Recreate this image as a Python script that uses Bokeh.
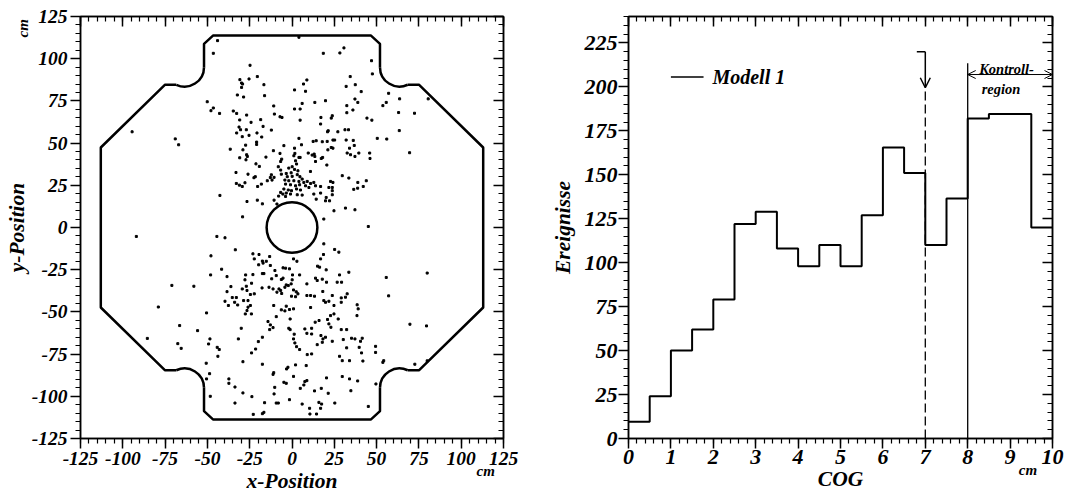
import math
from bokeh.plotting import figure
from bokeh.layouts import row
from bokeh.models import (LinearAxis, Range1d, SingleIntervalTicker, Label, Arrow,
                          OpenHead, CustomJSTickFormatter)
from bokeh.embed import file_html
from bokeh.resources import INLINE

FONT = "Liberation Serif"

# ---------------- data ----------------
# COG histogram (bin edges in cm, event counts)
cog_edges = [0.0, 0.5, 1.0, 1.5, 2.0, 2.5, 3.0, 3.5, 4.0, 4.5, 5.0,
             5.5, 6.0, 6.5, 7.0, 7.5, 8.0, 8.5, 9.0, 9.5, 10.0]
cog_counts = [9.5, 24, 50, 62, 79, 122, 129, 108, 98, 110,
              98, 127, 165.5, 151, 110, 136.5, 182, 184.5, 184.5, 120]

cut_cog = 7.0          # cut position (dashed line)
control_cog = 8.0      # start of control region

# hit positions (cm)
hits = [
    # upper half
    (-44, 110.7), (-46.5, 103.2), (-24.8, 96.1), (-20.5, 89.4), (-25.4, 88), (-30.8, 87.6),
    (-29.8, 85.6), (-29.2, 85), (-29.8, 83), (-16.6, 84.6), (-32.3, 78.5), (-28.6, 77.3),
    (-16.2, 78.1), (-50.1, 74.5), (-46.5, 70.8), (-47.9, 69.2), (-42.8, 67.6), (-34.7, 69),
    (-32.7, 67.6), (-26.8, 66.6), (-10.8, 72), (-10.4, 67.2), (-7.1, 65.6), (-5.9, 65.2),
    (-30.9, 63.7), (-24.2, 62.3), (-18.5, 63.9), (-31.3, 59.5), (-30.4, 57.9), (-17.1, 59.9),
    (-27, 57.9), (-12.2, 57.7), (-32.7, 56), (-29.4, 53.8), (-25.4, 54.6), (-20.7, 56),
    (-17.9, 53.6), (-20.9, 50.6), (-20.9, 49.2), (-27.4, 48.8), (-36.5, 46.4), (-29, 46),
    (-11, 45.5), (-26.8, 43.1), (-26.4, 42.1), (-27.2, 40.1), (-30.9, 41.3), (-15.4, 41.7),
    (-7.1, 43.9), (-6.1, 40.5), (-6.7, 39.1), (-21.3, 37.7), (-19.3, 36.2), (-33.1, 32.6),
    (-26, 31.6), (-21.7, 30.1), (-22.5, 29.5), (-8.1, 36), (-6.7, 34), (-10.6, 29.7),
    (-11.8, 28.1), (-6.3, 31.6), (-14.6, 27.7), (-12.8, 29.6), (-12.2, 31.2), (-32.9, 26.1),
    (-31.1, 25.1), (-29.4, 24.3), (-27.8, 26.5), (-20.3, 24.3), (-18.1, 25.7), (-42.6, 19),
    (-26.6, 15.4), (-20.5, 16.2), (-17.5, 14), (-10.6, 16.2), (-7.9, 18.6), (-6.7, 20.8),
    (-8.9, 13.9), (-29.2, 6.3),
    (4.1, 112.7), (30.7, 106.4), (28.3, 103.4), (18.5, 103.2), (47, 98.8), (47.5, 91),
    (34.4, 89.4), (8.8, 87.4), (6.8, 85), (37.4, 84.6), (32, 83.6), (40.9, 80.5),
    (1.5, 81.5), (8, 80.7), (57.1, 79.5), (55.7, 74.1), (53.7, 72.2), (37.2, 76.1),
    (38.9, 74.1), (32.4, 72.2), (36, 69.6), (32.4, 68), (6, 73.5), (13.5, 74.1),
    (19.8, 75.1), (1.5, 70.2), (4.8, 70.2), (17.1, 65.2), (23.8, 66.2), (23.2, 64.8),
    (4.8, 63.6), (44.3, 64.8), (47.2, 63.6), (16.9, 61.3), (21.4, 57.3), (21, 56.7),
    (27.1, 56.7), (31.3, 57.9), (33.4, 57.9), (50.4, 52.8), (56, 52.4), (4.1, 52.8),
    (5.6, 49), (1.5, 47), (-4.8, 48.5), (12.5, 51), (14.3, 51.4), (17.9, 50.8),
    (20.8, 51), (24.2, 51.8), (25.2, 51.8), (23.2, 47.4), (24.2, 47), (21.2, 46),
    (32, 51.8), (36.2, 51.6), (36.8, 48.6), (34, 47), (32.6, 44.1), (34.6, 43.1),
    (37.2, 42.1), (39.5, 44.1), (45.9, 44.1), (46.1, 40.9), (9.6, 44.1), (11.9, 42.9),
    (13.1, 43.5), (13.5, 42.1), (4.1, 41.5), (4.8, 41.5), (1.7, 43.9), (1.1, 42.5),
    (2.1, 39.5), (18.1, 41.5), (20.6, 37), (13.9, 39.1), (17.3, 40.9), (10.9, 33.2),
    (2.7, 37.6), (0.1, 36), (-1.9, 35.2), (1.5, 34.4), (3.5, 33.6), (-0.5, 32.4),
    (-3.4, 32), (-2.8, 30.1), (0.1, 30.3), (3.1, 31.3), (4.7, 30.1), (6, 28.7),
    (-4.2, 28.1), (-1.9, 27.7), (1.1, 27.7), (4.1, 27.3), (7, 26.7), (9, 27.3),
    (11, 26.1), (12.9, 26.7), (13.9, 24.7), (16.9, 24.3), (-3.8, 25.7), (-0.9, 25.3),
    (2.1, 24.7), (4.5, 25.3), (8, 24.7), (10, 23.7), (-4.8, 22.8), (-2.2, 22.2),
    (-0.3, 21.8), (2.7, 22.8), (5, 22.2), (-5.4, 19.8), (-3.4, 20.4), (-0.9, 19.8),
    (-3.8, 18.4), (3.1, 19.4), (6, 19.2), (22.8, 27.3), (24.2, 26.7), (23.8, 23.7),
    (21.8, 23.7), (23.8, 21.8), (23.8, 19.4), (20.2, 17.8), (19.8, 15.8), (22.2, 15.8),
    (14.3, 16.8), (12.9, 19.8), (16.9, 20.4), (29.7, 30.7), (33.6, 29.3), (38.9, 26.7),
    (38.8, 23.3), (43.9, 27.7), (42.1, 24.3), (36.5, 22.6), (24.8, 9.9), (31.6, 11.5),
    (37.2, 10.5), (18.8, 5), (45.1, 0.6),
    (-94.5, 56.7), (-69, 52.5), (-67, 49), (-92, -5.3),
    (63.6, 76.2), (80.5, 76.2), (63, 68.1), (72.4, 67.7), (63.4, 57.4), (69.5, 44.3),
    # lower half
    (-44.4, -5.3), (-39.6, -6.1), (-33.5, -13.2), (-47.9, -16.8), (-23.1, -15.6), (-19.5, -16),
    (-22.3, -18.6), (-17.5, -19.9), (-17.1, -21.1), (-15.2, -20), (-13.2, -17.2), (-19.7, -22.1),
    (-12.8, -22.5), (-41.6, -24.7), (-48.1, -28.1), (-38.4, -29.1), (-27.4, -28.1), (-23.1, -27.9),
    (-17.5, -27.3), (-16.6, -27.3), (-10.1, -25.5), (-9.3, -28.5), (-5.3, -23.9), (-6.3, -30.8),
    (-5.3, -30), (-27.8, -31), (-12, -30.4), (-58, -34.8), (-38.4, -38), (-36.1, -35),
    (-29.4, -36.4), (-27, -34.8), (-26.6, -37.3), (-23.9, -33), (-17.7, -35.8), (-13.6, -35.4),
    (-11.2, -36.4), (-22.3, -39.3), (-24.6, -39.7), (-7.7, -36.4), (-8.9, -38.3), (-6.7, -37.3),
    (-6.1, -39.1), (-39.6, -43.7), (-37.6, -46.2), (-35.3, -41.5), (-32.9, -41.5), (-33.9, -44.3),
    (-32.1, -45.9), (-28.6, -43.3), (-26, -43.3), (-24.6, -46.2), (-26, -47.2), (-27.6, -51.2),
    (-26.6, -49.2), (-24, -51.2), (-50.5, -50.6), (-10.8, -46.2), (-6.3, -48.8), (-9.3, -52.8),
    (-66.4, -58.1), (-55.8, -61.1), (-30, -59.7), (-14.2, -55.7), (-12.8, -57.7), (-11.2, -59.3),
    (-13.2, -60.5), (-17.5, -65), (-19.9, -67.6), (-21.5, -72), (-23.9, -74.3), (-31.7, -66),
    (-48.5, -66), (-49.3, -69), (-44.2, -71), (-43, -72.3), (-43.8, -76.3), (-50.7, -80.4),
    (-48.7, -86.6), (-50.5, -89.7), (-29, -79.5), (-17.5, -81), (-11.2, -87), (-10.8, -86),
    (-37.3, -89.7), (-37.3, -92.3), (-33.7, -94.5), (-48.3, -100), (-29, -98), (-23.7, -100.2),
    (-33.7, -104), (-10.6, -98.6), (-10.2, -94.7), (-16.2, -103.8), (-9.3, -104), (-8.1, -104),
    (-22.9, -110.7), (-17.5, -110.3), (-16.6, -109.5),
    (18.8, -9.7), (25.2, -13), (27.7, -14.6), (18.6, -16), (16.9, -18.6), (0.9, -18.6),
    (2.9, -20), (15.1, -22.9), (16.3, -23.5), (20.2, -25.1), (33.6, -26.5), (55.7, -29.6),
    (-3.8, -24.1), (-1.5, -24.5), (0.3, -28.1), (4.5, -28.1), (13.9, -30), (14.9, -31.4),
    (17.9, -30.6), (20.4, -32.4), (28.1, -28.1), (26.7, -32.4), (29.3, -32.4), (8.8, -33.4),
    (0.1, -31), (-0.5, -33.4), (-3.4, -34), (-4.2, -35.4), (-2.2, -34.4), (0.9, -37),
    (2.5, -38.1), (3.5, -39.3), (18.2, -37.9), (8.8, -40.3), (11, -40.3), (13.3, -40.7),
    (-0.3, -40.7), (2.1, -41), (18.8, -43.3), (19.8, -44.3), (21.8, -43.7), (23.8, -40.3),
    (29.1, -41.7), (29.1, -44.3), (31.6, -41.3), (32.6, -39.3), (11, -47.4), (24.8, -46.2),
    (38.5, -45.8), (39.1, -48.2), (38.4, -52.2), (-3.4, -46.6), (-4.2, -49.4), (-1.5, -48.6),
    (0.9, -48.2), (-1.1, -54.2), (24.8, -51.2), (22.8, -52.2), (27.3, -54.2), (16, -55.1),
    (13.7, -56.1), (21, -54.5), (21.8, -57.1), (23, -59.1), (-1.9, -59.7), (-1.1, -60.5),
    (7.6, -60.1), (11.6, -59.7), (8.8, -62.7), (11.6, -63.1), (1.3, -63.2), (17.1, -64),
    (19.8, -65), (18.3, -66), (29.1, -60.5), (32.3, -60.5), (23.8, -67.4), (35.2, -65.6),
    (37.2, -66), (41.5, -65.6), (40.5, -67.4), (39.7, -71), (41.1, -74.3), (30.3, -66.4),
    (0.9, -66), (1.7, -68.4), (2.7, -70.6), (4.5, -72.3), (14.9, -69.4), (17.9, -68),
    (32.3, -71.3), (9, -75.3), (11.6, -74.9), (28.1, -76.3), (29.7, -78.9), (34, -78.9),
    (49.4, -70.4), (49.4, -74), (41.9, -79.1), (54.2, -78.9), (53.7, -79.9), (-3.2, -83.8),
    (-2.4, -82.8), (2.1, -81.4), (8.4, -81.8), (-4.8, -91.7), (-3.4, -92.3), (0.9, -88.2),
    (7.6, -91.3), (7, -93.3), (8.8, -90.7), (4.9, -95.3), (20.4, -89.1), (29.7, -88.3),
    (34, -89.7), (38.8, -90.9), (34.8, -96.7), (49.6, -92.7), (21.4, -98.2), (13.3, -96.8),
    (17.3, -95.3), (-1.5, -102), (6, -104.6), (10.4, -107.1), (10.6, -110.5), (15.9, -103.6),
    (17.5, -104.6), (16.9, -107.1), (25.3, -104), (45.1, -106), (14.5, -110.5),
    (-71, -34.3), (-79, -47.1), (-85.5, -65.7), (-67.5, -68.8), (-65.5, -71.6),
    (79.9, -27), (57.1, -40.5), (69.7, -57.3), (79.5, -58.3), (72.6, -81), (79.9, -79),
]
hit_x = [h[0] for h in hits]
hit_y = [h[1] for h in hits]

# detector outline (cm): straight parts and rounded notch corners
outline_left = ([-68.4, -75, -113, -113, -75, -68.4], [-84.6, -84.6, -47.4, 47.4, 84.6, 84.6])
outline_top = ([-52, -52, -46.7, 46.7, 52, 52], [95, 108.8, 113.7, 113.7, 108.8, 95])
outline_right = ([68.4, 75, 113, 113, 75, 68.4], [84.6, 84.6, 47.4, -47.4, -84.6, -84.6])
outline_bottom = ([52, 52, 46.7, -46.7, -52, -52], [-95, -108.8, -113.7, -113.7, -108.8, -95])
notch_cx = [-63.5, 63.5, 63.5, -63.5]
notch_cy = [95, 95, -95, -95]
notch_r = 11.5
notch_start_deg = [245, 180, 64.8, 0]
notch_end_deg = [360, 295.2, 180, 115.2]
beam_hole_r = 15

HYPHEN_FMT = "return tick.toString();"


def style_axes(p, xtick, ytick, xminor, yminor, xlabel, ylabel, tick_font):
    p.title.visible = False
    p.grid.visible = False
    p.outline_line_color = "black"
    p.outline_line_width = 1.5
    p.background_fill_color = "white"
    p.border_fill_color = "white"
    xa = p.below[0]
    ya = p.left[0]
    xa.ticker = SingleIntervalTicker(interval=xtick, num_minor_ticks=xminor)
    ya.ticker = SingleIntervalTicker(interval=ytick, num_minor_ticks=yminor)
    xa.axis_label = xlabel
    ya.axis_label = ylabel
    for ax in (xa, ya):
        ax.formatter = CustomJSTickFormatter(code=HYPHEN_FMT)
        ax.axis_line_width = 1.5
        ax.major_tick_line_width = 1.5
        ax.minor_tick_line_width = 1.2
        ax.major_tick_in = 0
        ax.major_tick_out = 10
        ax.minor_tick_in = 0
        ax.minor_tick_out = 5
        ax.major_label_text_font = FONT
        ax.major_label_text_font_style = "bold italic"
        ax.major_label_text_font_size = tick_font
        ax.major_label_text_color = "black"
        ax.axis_label_text_font = FONT
        ax.axis_label_text_font_style = "bold italic"
        ax.axis_label_text_font_size = "21.5px"
        ax.axis_label_text_color = "black"
    for loc, tick, nminor in (("above", xtick, xminor), ("right", ytick, yminor)):
        ax = LinearAxis(ticker=SingleIntervalTicker(interval=tick, num_minor_ticks=nminor),
                        formatter=CustomJSTickFormatter(code="return '';"),
                        major_label_text_font_size="0px", major_label_standoff=0,
                        major_tick_in=10, major_tick_out=0, minor_tick_in=5, minor_tick_out=0,
                        axis_line_width=1.5, major_tick_line_width=1.5, minor_tick_line_width=1.2)
        p.add_layout(ax, loc)
    return xa, ya


def unit_label(x, y, angle=0.0):
    return Label(x=x, y=y, text="cm", angle=angle,
                 text_font=FONT, text_font_style="bold italic", text_font_size="15px",
                 text_color="black", text_align="center", text_baseline="middle")


# ---------------- left: hit map ----------------
p1 = figure(frame_width=423, frame_height=422, x_range=Range1d(-125, 125),
            y_range=Range1d(-125, 125), output_backend="svg", toolbar_location=None,
            min_border_left=80, min_border_right=37, min_border_top=16, min_border_bottom=62)
xa1, ya1 = style_axes(p1, 25, 25, 5, 5, "x-Position", "y-Position", "19.5px")
xa1.major_label_standoff = 3
ya1.major_label_standoff = 3
xa1.axis_label_standoff = 1
ya1.axis_label_standoff = 0

for xs, ys in (outline_left, outline_top, outline_right, outline_bottom):
    p1.line(xs, ys, line_color="black", line_width=2.5)
p1.arc(x=notch_cx, y=notch_cy, radius=notch_r,
       start_angle=[math.radians(a) for a in notch_start_deg],
       end_angle=[math.radians(a) for a in notch_end_deg],
       line_color="black", line_width=2.5)
p1.ellipse(x=[0], y=[0], width=2 * beam_hole_r, height=2 * beam_hole_r,
           fill_color=None, line_color="black", line_width=2.5)
p1.scatter(hit_x, hit_y, marker="square", size=2.0, color="black")

# unit labels live in a side panel so that they are not clipped to the frame
p1.add_layout(unit_label(114.5, -144), "right")
p1.add_layout(unit_label(-159, 118, angle=math.pi / 2), "right")

# ---------------- right: COG histogram ----------------
p2 = figure(frame_width=424, frame_height=422, x_range=Range1d(0, 10), y_range=Range1d(0, 240),
            output_backend="svg", toolbar_location=None,
            min_border_left=88, min_border_right=26, min_border_top=16, min_border_bottom=62)
xa2, ya2 = style_axes(p2, 1, 25, 5, 5, "COG", "Ereignisse", "22px")
xa2.major_label_standoff = 1
ya2.major_label_standoff = 1
xa2.axis_label_standoff = 0
ya2.axis_label_standoff = 7

step_x = cog_edges
step_y = cog_counts + [cog_counts[-1]]
p2.step(step_x, step_y, mode="after", line_color="black", line_width=2)

p2.segment(x0=[cut_cog], y0=[0], x1=[cut_cog], y1=[200], line_color="black",
           line_width=1.3, line_dash="9 4")
p2.segment(x0=[control_cog], y0=[0], x1=[control_cog], y1=[213.4], line_color="black",
           line_width=1.3)
p2.segment(x0=[cut_cog - 0.2], y0=[220], x1=[cut_cog], y1=[220], line_color="black",
           line_width=1.5)
p2.add_layout(Arrow(end=OpenHead(size=10, line_width=1.5), x_start=cut_cog, y_start=220,
                    x_end=cut_cog, y_end=199.5, line_width=1.5))
p2.add_layout(Arrow(start=OpenHead(size=8, line_width=1), end=OpenHead(size=8, line_width=1),
                    x_start=control_cog, y_start=207, x_end=10, y_end=207, line_width=1))
p2.add_layout(Label(x=8.27, y=210.2, text="Kontroll-", text_font=FONT, text_color="black",
                    text_font_style="bold italic", text_font_size="14.5px",
                    text_baseline="alphabetic"))
p2.add_layout(Label(x=8.33, y=198.8, text="region", text_font=FONT, text_color="black",
                    text_font_style="bold italic", text_font_size="14.5px",
                    text_baseline="alphabetic"))

# legend
p2.segment(x0=[1.0], y0=[205.6], x1=[1.77], y1=[205.6], line_color="black", line_width=1.5)
p2.add_layout(Label(x=1.98, y=205.6, text="Modell 1", text_font=FONT, text_color="black",
                    text_font_style="bold italic", text_font_size="20px",
                    text_baseline="middle"))
p2.add_layout(unit_label(9.42, -18), "right")

layout = row(p1, p2)
open("out.html", "w").write(file_html(layout, INLINE))
